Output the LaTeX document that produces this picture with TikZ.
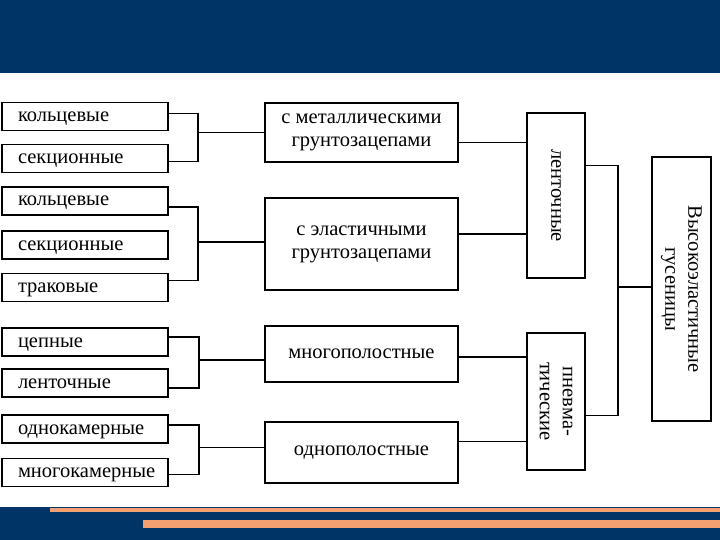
\documentclass[tikz,border=0pt]{standalone}
\usepackage{fontspec}
\setmainfont{Liberation Serif}
\definecolor{slideblue}{RGB}{0,51,102}
\definecolor{slideorange}{RGB}{244,160,112}
\newcommand{\lbltext}[1]{\raisebox{-5pt}[0pt][0pt]{\makebox[134pt][l]{#1}}}

\begin{document}
\begin{tikzpicture}[
	x=1pt, y=-1pt,
	line width=1.6pt,
	boxfont/.style={font=\fontsize{20.5}{23}\selectfont},
	leftbox/.style={
		draw, boxfont,
		line width=1.9pt,
		minimum width=166pt,
		minimum height=28pt,
		text height=0pt,
		text depth=0pt,
		inner xsep=16pt,
		inner ysep=0pt
	},
	midbox/.style={
		draw, boxfont,
		line width=1.9pt,
		minimum width=193pt,
		align=center
	},
	vbox/.style={
		draw, boxfont,
		line width=1.9pt,
		inner sep=0pt
	}
	]
	
	\useasboundingbox (0,0) rectangle (720,540);
	\fill[white] (0,0) rectangle (720,540);
	\fill[slideblue] (0,0) rectangle (720,73);
	\fill[slideblue] (0,507) rectangle (720,540);
	\fill[slideorange] (50,508) rectangle (720,512);
	\fill[slideorange] (143,520) rectangle (720,528);
	
	% left column
	\node[leftbox] (ring1) at (85,116.5) {\lbltext{кольцевые}};
	\node[leftbox] (sect1) at (85,158.5) {\lbltext{секционные}};
	\node[leftbox] (ring2) at (85,201)   {\lbltext{кольцевые}};
	\node[leftbox] (sect2) at (85,245)   {\lbltext{секционные}};
	\node[leftbox] (track) at (85,287.5) {\lbltext{траковые}};
	\node[leftbox] (chain) at (85,342)   {\lbltext{цепные}};
	\node[leftbox] (belt)  at (85,383)   {\lbltext{ленточные}};
	\node[leftbox] (onech) at (85,429)   {\lbltext{однокамерные}};
	\node[leftbox] (multi) at (85,472.5) {\lbltext{многокамерные}};
	
	% middle column
	\node[midbox, minimum height=59pt] (metal) at (361.5,132.5) {с металлическими\\грунтозацепами};
	\node[midbox, minimum height=92pt] (elast) at (361.5,244)   {с эластичными\\грунтозацепами};
	\node[midbox, minimum height=56pt] (mcav)  at (361.5,354)   {многополостные};
	\node[midbox, minimum height=61pt] (scav)  at (361.5,452.5) {однополостные};
	
	% right column
	\node[vbox, minimum width=58pt, minimum height=165pt] (tape) at (556,195.5) {\rotatebox{-90}{ленточные}};
	\node[vbox, minimum width=58pt, minimum height=137pt] (pneu) at (556,401.5) {\rotatebox{-90}{\begin{tabular}{@{}c@{}}пневма-\\тические\end{tabular}}};
	\node[vbox, minimum width=59pt, minimum height=264pt] (track0) at (681.5,289) {\rotatebox{-90}{\begin{tabular}{@{}c@{}}Высокоэластичные\\гусеницы\end{tabular}}};
	
	% junctions
	\path (metal.west) ++(-66,0) coordinate (j1);
	\path (elast.west) ++(-66,-2) coordinate (j2);
	\path (mcav.west)  ++(-65,6) coordinate (j3);
	\path (scav.west)  ++(-65,-5) coordinate (j4);
	\path (track0.west) ++(-33,-2) coordinate (j5);
	
	\draw ([yshift=3pt]ring1.east) -| (j1) |- ([yshift=-3pt]sect1.east);
	\draw (j1) -- (metal.west);
	\draw ([yshift=-6pt]ring2.east) -| (j2) |- ([yshift=7pt]track.east);
	\draw (j2) -- (j2 -| elast.west);
	\draw ([yshift=5pt]chain.east) -| (j3) |- ([yshift=-5pt]belt.east);
	\draw (j3) -- (j3 -| mcav.west);
	\draw ([yshift=4pt]onech.east) -| (j4) |- ([yshift=-2pt]multi.east);
	\draw (j4) -- (j4 -| scav.west);
	
	\draw ([yshift=-10pt]metal.east) -- ([yshift=-10pt]metal.east -| tape.west);
	\draw ([yshift=10pt]elast.east) -- ([yshift=10pt]elast.east -| tape.west);
	\draw ([yshift=-3pt]mcav.east) -- ([yshift=-3pt]mcav.east -| pneu.west);
	\draw ([yshift=11pt]scav.east) -- ([yshift=11pt]scav.east -| pneu.west);
	
	\draw ([yshift=30pt]tape.east) -| (j5) |- ([yshift=-14pt]pneu.east);
	\draw (j5) -- (j5 -| track0.west);
	
\end{tikzpicture}
\end{document}
